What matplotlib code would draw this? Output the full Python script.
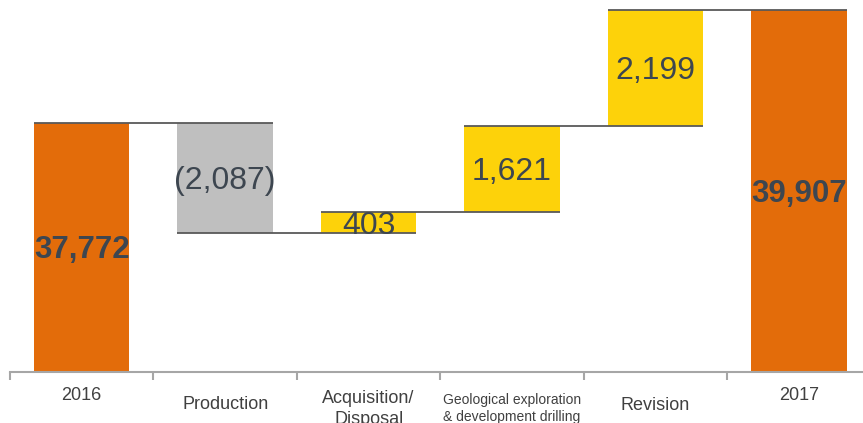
import matplotlib
matplotlib.use('Agg')
import matplotlib.pyplot as plt
import matplotlib.transforms as mtransforms
import numpy as np

plt.rcParams['font.family'] = ['Liberation Sans', 'DejaVu Sans']

# data
categories = ['2016', 'Production', 'Acquisition/\nDisposal',
              'Geological exploration\n& development drilling', 'Revision', '2017']
values = [37772, -2087, 403, 1621, 2199, 39907]
value_labels = ['37,772', '(2,087)', '403', '1,621', '2,199', '39,907']
is_total = [True, False, False, False, False, True]

orange = '#E36C0A'
yellow = '#FDD20A'
grey = '#BFBFBF'
text_col = '#3d4650'

fig = plt.figure(figsize=(8.63, 4.23), dpi=100)
ax = fig.add_axes([10 / 863, 51 / 423, 853 / 863, 372 / 423])

x = np.arange(len(values))
w = 0.665
bottoms = []
heights = []
colors = []
running = 0
for v, tot in zip(values, is_total):
    if tot:
        bottoms.append(0)
        heights.append(v)
        colors.append(orange)
        running = v
    else:
        start = running
        running = running + v
        bottoms.append(min(start, running))
        heights.append(abs(v))
        colors.append(yellow if v > 0 else grey)

ax.bar(x, heights, bottom=bottoms, width=w, color=colors, edgecolor='none', zorder=2)

# connector lines
levels = []
running = 0
for v, tot in zip(values, is_total):
    running = v if tot else running + v
    levels.append(running)
for i in range(len(values) - 1):
    ax.plot([x[i] - w / 2, x[i + 1] + w / 2], [levels[i], levels[i]],
            color='#595959', lw=1.3, zorder=3, solid_capstyle='butt')

ymin, ymax = 33068, 40095

# value labels, nudged down a little like the original
nudge = mtransforms.offset_copy(ax.transData, fig=fig, x=0, y=-3, units='dots')
for i, (b, h, lab) in enumerate(zip(bottoms, heights, value_labels)):
    lo = max(b, ymin)
    yc = (lo + b + h) / 2
    ax.text(x[i], yc, lab, ha='center', va='center', color=text_col,
            fontsize=22.5 if is_total[i] else 23, transform=nudge,
            fontweight='bold' if is_total[i] else 'normal', zorder=4)

# category labels (staggered like the original), pixel centre of each block
label_y = [395, 404, 409, 408.5, 405, 395]
label_fs = [13, 13, 13, 10, 13, 13]
label_ls = [1.15, 1.15, 1.3, 1.25, 1.15, 1.15]
for i, (c, py, fs, ls) in enumerate(zip(categories, label_y, label_fs, label_ls)):
    yfrac = (372 - py) / 372
    ax.text(x[i], yfrac, c, transform=ax.get_xaxis_transform(), ha='center',
            va='center', fontsize=fs, color='#404040', linespacing=ls,
            clip_on=False)

for s in ['top', 'right', 'left']:
    ax.spines[s].set_visible(False)
ax.spines['bottom'].set_color('#a6a6a6')
ax.spines['bottom'].set_linewidth(1.5)
ax.set_yticks([])
ax.set_xticks(np.arange(-0.5, len(values), 1.0))
ax.set_xticklabels([])
ax.tick_params(axis='x', length=6, width=1.5, color='#a6a6a6')

ax.set_xlim(-0.5, 5.446)
ax.set_ylim(ymin, ymax)

fig.savefig('out.png', dpi=100)
